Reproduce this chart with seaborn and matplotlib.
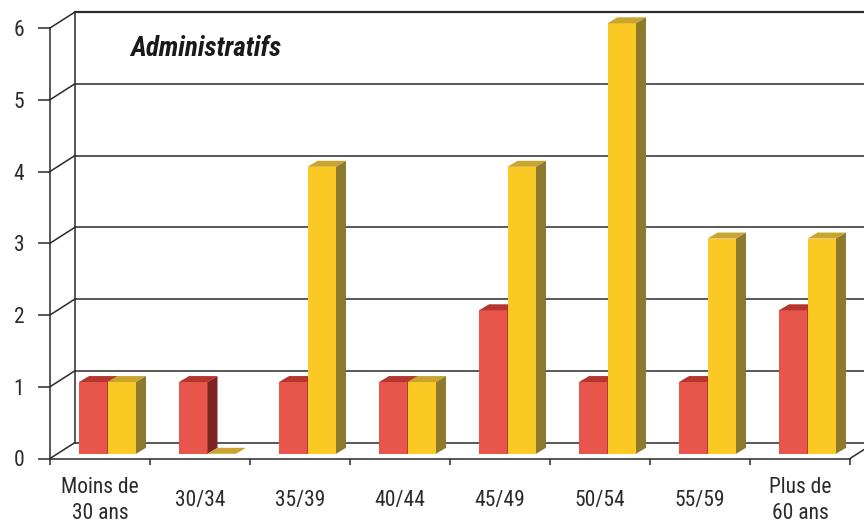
import matplotlib
matplotlib.use("Agg")
import matplotlib.pyplot as plt
import seaborn as sns
import pandas as pd
import numpy as np
from matplotlib.patches import Polygon
from matplotlib.lines import Line2D
from matplotlib.transforms import IdentityTransform, ScaledTranslation

# ---- data ----
categories = ["Moins de\n30 ans", "30/34", "35/39", "40/44", "45/49", "50/54", "55/59", "Plus de\n60 ans"]
serie_rouge = [1, 1, 1, 1, 2, 1, 1, 2]
serie_jaune = [1, 0, 4, 1, 4, 6, 3, 3]
yticks = [0, 1, 2, 3, 4, 5, 6]
title = "Administratifs"

# ---- style ----
red_front, red_top, red_side = "#E8564B", "#B5362F", "#7E2222"
yel_front, yel_top, yel_side = "#FBC924", "#C9A42E", "#8E7A2F"
line_col = "#2a2a2a"
text_col = "#2b2b2b"

sns.set_theme(style="white")
plt.rcParams['font.family'] = ['Roboto Condensed', 'Roboto', 'DejaVu Sans']

df = pd.DataFrame({
    "cat": categories * 2,
    "val": serie_rouge + serie_jaune,
    "serie": ["rouge"] * len(categories) + ["jaune"] * len(categories),
})

W, H = 864, 524
DPI = 100
fig = plt.figure(figsize=(W / DPI, H / DPI), dpi=DPI)
ax = fig.add_axes([50 / W, (H - 458.5) / H, 800 / W, (458.5 - 28) / H])

sns.barplot(data=df, x="cat", y="val", hue="serie", order=categories,
            hue_order=["rouge", "jaune"], palette=[red_front, yel_front],
            width=0.57, gap=0, saturation=1, errorbar=None, legend=False, ax=ax)
ax.set_xlim(-0.5, len(categories) - 0.5)
ax.set_ylim(0, 6)
ax.set_xlabel("")
ax.set_ylabel("")

# spines
for s in ["top", "right"]:
    ax.spines[s].set_visible(False)
for s in ["left", "bottom"]:
    ax.spines[s].set_color(line_col)
    ax.spines[s].set_linewidth(1.1)
    ax.spines[s].set_clip_on(False)

# ticks
ax.set_yticks(yticks)
ax.set_yticklabels([str(v) for v in yticks], fontsize=15.5, color=text_col)
ax.tick_params(axis="y", left=True, length=8.6, width=1.1, color=line_col, pad=10)
ax.set_xticks(range(len(categories)))
ax.set_xticklabels(categories, fontsize=15.5, color=text_col, linespacing=1.3)
ax.set_xticks(np.arange(-0.5, len(categories)), minor=True)
ax.tick_params(axis="x", which="major", bottom=True, length=0, pad=30.5)
ax.tick_params(axis="x", which="minor", bottom=True, length=4.5, width=1.1, color=line_col)
for t in ax.get_xticklabels():
    t.set_va("center")
ax.grid(False)
ax.patch.set_alpha(0)

# ---- 3D decoration ----
shift_front = (7.5, 4.7)   # pixels: bar front plane relative to axis plane
depth_bar = (10, 6)        # pixels: bar depth
depth_wall = (25, 16)      # pixels: back wall offset

fig.canvas.draw()
T = ax.transData
Ident = IdentityTransform()

# back wall and diagonals
lines = []
for y in yticks:
    fx, fy = T.transform((-0.5, y))
    bx, by = fx + depth_wall[0], fy + depth_wall[1]
    lw = 1.6 if y == yticks[-1] else 1.1
    lines.append(Line2D([fx, bx], [fy, by], color=line_col, lw=1.1))
    lines.append(Line2D([bx, W + 5], [by, by], color=line_col, lw=lw))
b0 = T.transform((-0.5, 0)) + np.array(depth_wall)
b6 = T.transform((-0.5, 6)) + np.array(depth_wall)
lines.append(Line2D([b0[0], b6[0]], [b0[1], b6[1]], color=line_col, lw=1.1))
rx, ry = T.transform((len(categories) - 0.5, 0))
lines.append(Line2D([rx, rx + depth_wall[0]], [ry, ry + depth_wall[1]], color=line_col, lw=1.1))
for ln in lines:
    ln.set_transform(Ident)
    ln.set_zorder(0.5)
    ln.set_clip_on(False)
    ax.add_artist(ln)

# bars
n = len(categories)
bars = list(ax.patches)
offset_tr = ScaledTranslation(shift_front[0] / DPI, shift_front[1] / DPI, fig.dpi_scale_trans)
for i, p in enumerate(bars):
    is_red = i < n
    top_c = red_top if is_red else yel_top
    side_c = red_side if is_red else yel_side
    z = 3 if is_red else 4
    x0, w, h = p.get_x(), p.get_width(), p.get_height()
    x1 = x0 + w
    p.set_transform(T + offset_tr)
    p.set_zorder(z)
    p.set_edgecolor("none")
    p.set_clip_on(False)
    a = T.transform((x0, h)) + np.array(shift_front)
    b = T.transform((x1, h)) + np.array(shift_front)
    c0 = T.transform((x1, 0)) + np.array(shift_front)
    d = np.array(depth_bar)
    top = Polygon([a, b, b + d, a + d], closed=True, facecolor=top_c, edgecolor="none",
                  transform=Ident, zorder=z + 0.1, clip_on=False)
    side = Polygon([c0, b, b + d, c0 + d], closed=True, facecolor=side_c, edgecolor="none",
                   transform=Ident, zorder=z + 0.1, clip_on=False)
    ax.add_patch(top)
    ax.add_patch(side)

# title
fig.text(130 / W, (H - 49) / H, title, fontsize=19.5, fontweight="bold", fontstyle="italic",
         color="#1a1a1a", ha="left", va="center")

fig.savefig("out.png", dpi=DPI)
